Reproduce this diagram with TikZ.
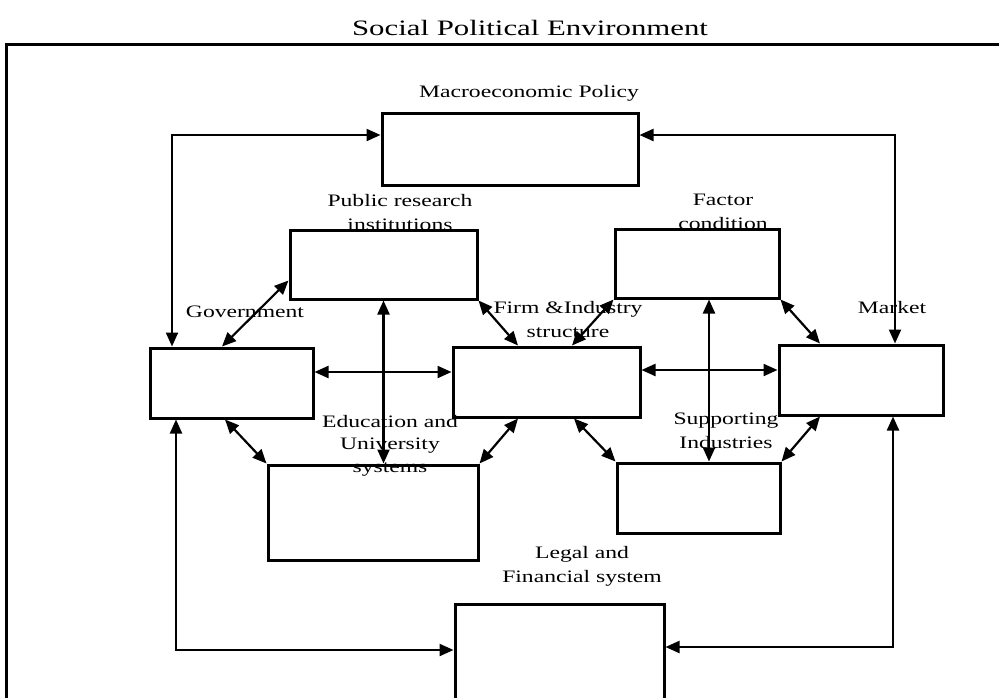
\documentclass[tikz,border=0pt]{standalone}
\usepackage{fontspec}
\setmainfont{Liberation Serif}
\usetikzlibrary{arrows.meta, positioning, calc}

\newcommand{\widetxt}[1]{\scalebox{1.35}[1]{#1}}

\tikzset{
  blok/.style={draw=black, line width=3pt, inner sep=0pt},
  lbl/.style={font=\fontsize{17.5}{24}\selectfont, align=center, inner sep=0pt, anchor=base},
  link/.style={{Triangle[length=14pt,width=12pt]}-{Triangle[length=14pt,width=12pt]}, line width=2.2pt}
}

\begin{document}
\begin{tikzpicture}[x=1pt, y=-1pt]
  \useasboundingbox (0,0) rectangle (999,697);
  \clip (0,0) rectangle (999,697);

  % --- Environment frame ---
  \node[blok, minimum width=1020pt, minimum height=680pt, anchor=north west] (env) at (5,43) {};
  \node[lbl, font=\fontsize{22}{26}\selectfont] (envlbl) at (530,35) {\scalebox{1.4}[1]{Social Political Environment}};

  % --- Boxes ---
  \node[blok, minimum width=256pt, minimum height=72pt] (macro) at (510,149) {};
  \node[blok, minimum width=187pt, minimum height=69pt] (pub) at (383.5,264.5) {};
  \node[blok, minimum width=164pt, minimum height=69pt] (factor) at (697,263.5) {};
  \node[blok, minimum width=163pt, minimum height=70pt] (gov) at (231.5,383) {};
  \node[blok, minimum width=187pt, minimum height=70pt] (firm) at (546.5,382) {};
  \node[blok, minimum width=164pt, minimum height=70pt] (market) at (861,380) {};
  \node[blok, minimum width=210pt, minimum height=95pt] (edu) at (373,512.5) {};
  \node[blok, minimum width=163pt, minimum height=70pt] (supp) at (698.5,498) {};
  \node[blok, minimum width=209pt, minimum height=116pt] (legal) at (559.5,662) {};

  % --- Labels (base = last line) ---
  \node[lbl] (macrolbl) at (529,97) {\widetxt{Macroeconomic Policy}};
  \node[lbl] (publbl) at (400,230) {\widetxt{Public research}\\\widetxt{institutions}};
  \node[lbl] (factorlbl) at (723,229) {\widetxt{Factor}\\\widetxt{condition}};
  \node[lbl] (govlbl) at (245,317) {\widetxt{Government}};
  \node[lbl] (firmlbl) at (568,337) {\widetxt{Firm \&Industry}\\\widetxt{structure}};
  \node[lbl] (marketlbl) at (892,313) {\widetxt{Market}};
  \node[lbl, font=\fontsize{17.5}{22.5}\selectfont] (edulbl) at (390,472) {\widetxt{Education and}\\\widetxt{University}\\\widetxt{systems}};
  \node[lbl] (supplbl) at (726,448) {\widetxt{Supporting}\\\widetxt{Industries}};
  \node[lbl] (legallbl) at (582,582) {\widetxt{Legal and}\\\widetxt{Financial system}};

  % --- Links to policy ---
  \draw[link] ([xshift=-59.5pt]gov.north) |- ([yshift=14pt]macro.west);
  \draw[link] ([xshift=34pt]market.north) |- ([yshift=14pt]macro.east);

  % --- Upper diamond ---
  \draw[link] ([xshift=-9.5pt]gov.north) -- ([yshift=-16pt]pub.west);
  \draw[link] (pub.south east) -- ([xshift=-28.5pt]firm.north);
  \draw[link] ([xshift=25.5pt]firm.north) -- (factor.south west);
  \draw[link] (factor.south east) -- ([xshift=-41pt]market.north);

  % --- Middle row ---
  \draw[link] ([yshift=11pt]gov.east) -- ([yshift=11pt]gov.east -| firm.west);
  \draw[link] ([yshift=12pt]firm.east) -- ([yshift=12pt]firm.east -| market.west);

  % --- Verticals ---
  \draw[link] (pub.south) -- (pub.south |- edu.north);
  \draw[link] ([xshift=12pt]factor.south) -- ([xshift=12pt]factor.south |- supp.north);

  % --- Lower diamond ---
  \draw[link] ([xshift=-6.5pt]gov.south) -- (edu.north west);
  \draw[link] (edu.north east) -- ([xshift=-28.5pt]firm.south);
  \draw[link] ([xshift=27.5pt]firm.south) -- (supp.north west);
  \draw[link] ([xshift=-41pt]market.south) -- (supp.north east);

  % --- Links to legal system ---
  \draw[link] ([xshift=-55.5pt]gov.south) |- ([yshift=12pt]legal.west);
  \draw[link] ([xshift=32pt]market.south) |- ([yshift=15pt]legal.east);
\end{tikzpicture}
\end{document}
